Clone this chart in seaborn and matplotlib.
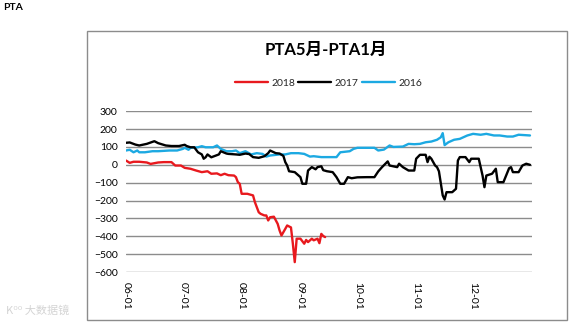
import matplotlib
matplotlib.use("Agg")
import matplotlib.pyplot as plt
import matplotlib.dates as mdates
from matplotlib.lines import Line2D
from matplotlib.patches import Rectangle
import pandas as pd
import seaborn as sns

# PTA May-January spread by season (month-day, spread)
dates_2018 = ["06-01", "06-03", "06-05", "06-08", "06-12", "06-14", "06-18", "06-21", "06-25", "06-27",
              "06-30", "07-02", "07-05", "07-08", "07-11", "07-14", "07-16", "07-19", "07-21", "07-23",
              "07-25", "07-28", "07-29", "07-30", "07-31", "08-01", "08-04", "08-07", "08-08", "08-10",
              "08-11", "08-13", "08-14", "08-15", "08-16", "08-18", "08-19", "08-20", "08-21", "08-22",
              "08-24", "08-25", "08-27", "08-28", "08-29", "08-30", "09-01", "09-03", "09-04", "09-05",
              "09-07", "09-08", "09-10", "09-11", "09-12", "09-13", "09-14"]
values_2018 = [24, 11, 17, 17, 13, 5, 13, 15, 15, -4,
               -4, -17, -22, -32, -41, -36, -50, -48, -58, -50,
               -58, -60, -69, -97, -106, -162, -162, -171, -209, -265,
               -274, -283, -283, -311, -293, -290, -310, -330, -367, -395,
               -358, -339, -350, -441, -544, -413, -413, -441, -420, -432,
               -413, -422, -413, -438, -386, -398, -404]

dates_2017 = ["06-01", "06-03", "06-06", "06-08", "06-12", "06-16", "06-18", "06-22", "06-25", "06-29",
              "07-02", "07-03", "07-05", "07-07", "07-09", "07-11", "07-12", "07-13", "07-14", "07-16",
              "07-18", "07-20", "07-21", "07-24", "07-25", "07-29", "07-31", "08-03", "08-05", "08-07",
              "08-10", "08-13", "08-15", "08-16", "08-19", "08-21", "08-23", "08-24", "08-25", "08-26",
              "08-29", "09-01", "09-02", "09-04", "09-05", "09-07", "09-09", "09-10", "09-12", "09-13",
              "09-15", "09-18", "09-20", "09-22", "09-24", "09-26", "09-28", "10-01", "10-06", "10-10",
              "10-12", "10-14", "10-17", "10-18", "10-22", "10-23", "10-25", "10-28", "10-31", "11-01",
              "11-03", "11-06", "11-07", "11-08", "11-09", "11-11", "11-12", "11-13", "11-15", "11-16",
              "11-17", "11-20", "11-22", "11-23", "11-24", "11-27", "11-29", "11-30", "12-04", "12-05",
              "12-06", "12-07", "12-08", "12-11", "12-13", "12-14", "12-17", "12-20", "12-21", "12-22",
              "12-25", "12-27", "12-29", "12-31"]
values_2017 = [123, 125, 113, 108, 117, 132, 121, 108, 105, 105,
               112, 105, 98, 98, 70, 58, 34, 42, 58, 42,
               50, 58, 76, 63, 61, 58, 56, 63, 60, 43,
               39, 48, 65, 80, 65, 63, 50, 15, -4, -36,
               -41, -69, -106, -106, -32, -13, -25, -13, -8, -30,
               -36, -41, -69, -106, -106, -69, -75, -70, -69, -69,
               -37, -13, 19, -4, -13, 6, -13, -32, -32, 34,
               56, 56, 15, 45, 34, -4, -13, -36, -171, -194,
               -153, -153, -134, 24, 43, 43, 15, 34, 34, -13,
               -60, -125, -60, -50, -22, -97, -97, -19, -13, -41,
               -41, -4, 6, 0]

dates_2016 = ["06-01", "06-03", "06-05", "06-07", "06-08", "06-11", "06-15", "06-18", "06-24", "06-28",
              "07-01", "07-02", "07-04", "07-05", "07-09", "07-11", "07-13", "07-17", "07-19", "07-21",
              "07-24", "07-27", "07-29", "07-31", "08-03", "08-06", "08-09", "08-12", "08-14", "08-16",
              "08-21", "08-24", "08-27", "08-31", "09-03", "09-06", "09-08", "09-12", "09-20", "09-22",
              "09-27", "09-29", "10-01", "10-10", "10-12", "10-15", "10-18", "10-20", "10-25", "10-28",
              "10-31", "11-03", "11-06", "11-09", "11-12", "11-14", "11-15", "11-16", "11-18", "11-21",
              "11-24", "11-28", "12-01", "12-05", "12-08", "12-12", "12-15", "12-19", "12-22", "12-25",
              "12-31"]
values_2016 = [80, 84, 70, 80, 70, 70, 76, 76, 80, 80,
               89, 95, 84, 95, 98, 104, 98, 98, 108, 89,
               76, 76, 80, 65, 76, 58, 65, 61, 46, 52,
               58, 58, 65, 65, 61, 46, 48, 43, 43, 70,
               76, 89, 95, 95, 80, 85, 108, 100, 102, 117,
               115, 117, 126, 130, 140, 154, 177, 110, 126, 140,
               145, 164, 173, 168, 173, 164, 164, 158, 158, 168,
               164]

series_names = ["2018", "2017", "2016"]
series_colors = ["#E8191E", "#000000", "#1CA9E2"]
month_ticks = ["06-01", "07-01", "08-01", "09-01", "10-01", "11-01", "12-01"]
y_ticks = [300, 200, 100, 0, -100, -200, -300, -400, -500, -600]

BASE_YEAR = "2001-"


def to_dates(md_list):
    return pd.to_datetime([BASE_YEAR + md for md in md_list])


frames = []
for name, d, v in zip(series_names,
                      [dates_2018, dates_2017, dates_2016],
                      [values_2018, values_2017, values_2016]):
    frames.append(pd.DataFrame({"date": to_dates(d), "spread": v, "year": name}))
df = pd.concat(frames, ignore_index=True)

sns.set_theme(style="white")
plt.rcParams["font.family"] = ["Lato", "Noto Sans CJK SC", "DejaVu Sans"]

fig = plt.figure(figsize=(5.75, 3.24), dpi=100)
ax = fig.add_axes([0.219, 0.160, 0.706, 0.497])

# horizontal gridlines drawn behind the series
for yv in y_ticks:
    ax.axhline(yv, color="#8c8c8c", lw=1.0, zorder=0)

palette = dict(zip(series_names, series_colors))
# draw older seasons first so 2018 sits on top
for name in ["2016", "2017", "2018"]:
    sns.lineplot(data=df[df["year"] == name], x="date", y="spread", color=palette[name],
                 lw=1.7, estimator=None, sort=False, ax=ax, legend=False, zorder=3)

ax.set_ylim(-600, 300)
ax.set_yticks(y_ticks)
ax.set_xlim(pd.Timestamp(BASE_YEAR + "06-01"), pd.Timestamp("2002-01-01"))
ax.set_xticks(to_dates(month_ticks))
ax.xaxis.set_major_formatter(mdates.DateFormatter("%m-%d"))
ax.tick_params(axis="x", labelrotation=270, labelsize=7.5, pad=7, length=0, colors="#000000")
ax.tick_params(axis="y", labelsize=7.5, pad=6, length=0, colors="#000000")
for lbl in ax.get_xticklabels():
    lbl.set_verticalalignment("top")
    lbl.set_horizontalalignment("center")
ax.set_xlabel("")
ax.set_ylabel("")
for side in ["left", "right", "top", "bottom"]:
    ax.spines[side].set_visible(False)
ax.set_facecolor("none")

# outer chart frame
fig.patches.append(Rectangle((87 / 575, 1 - 320 / 324), (567 - 87) / 575, (320 - 31) / 324,
                             transform=fig.transFigure, fill=False, edgecolor="#8c8c8c", lw=1.0))

fig.text(0.566, 1 - 50 / 324, "PTA5月-PTA1月", ha="center", va="center",
         fontsize=12, fontweight="bold", color="#000000")

handles = [Line2D([0], [0], color=c, lw=1.7) for c in series_colors]
fig.legend(handles, series_names, loc="center", bbox_to_anchor=(0.571, 1 - 83 / 324),
           ncol=3, frameon=False, fontsize=7.5, handlelength=3.2, handletextpad=0.3,
           columnspacing=0.3)

fig.text(0.006, 1 - 8 / 324, "PTA", ha="left", va="center", fontsize=7.5,
         fontweight="bold", color="#000000")
fig.text(0.01, 1 - 311 / 324, "K⁰⁰ 大数据镜", ha="left", va="center", fontsize=8,
         color="#d4d4d4", family=["Noto Sans CJK SC", "DejaVu Sans"])

fig.savefig("out.png", dpi=100, facecolor="white")
